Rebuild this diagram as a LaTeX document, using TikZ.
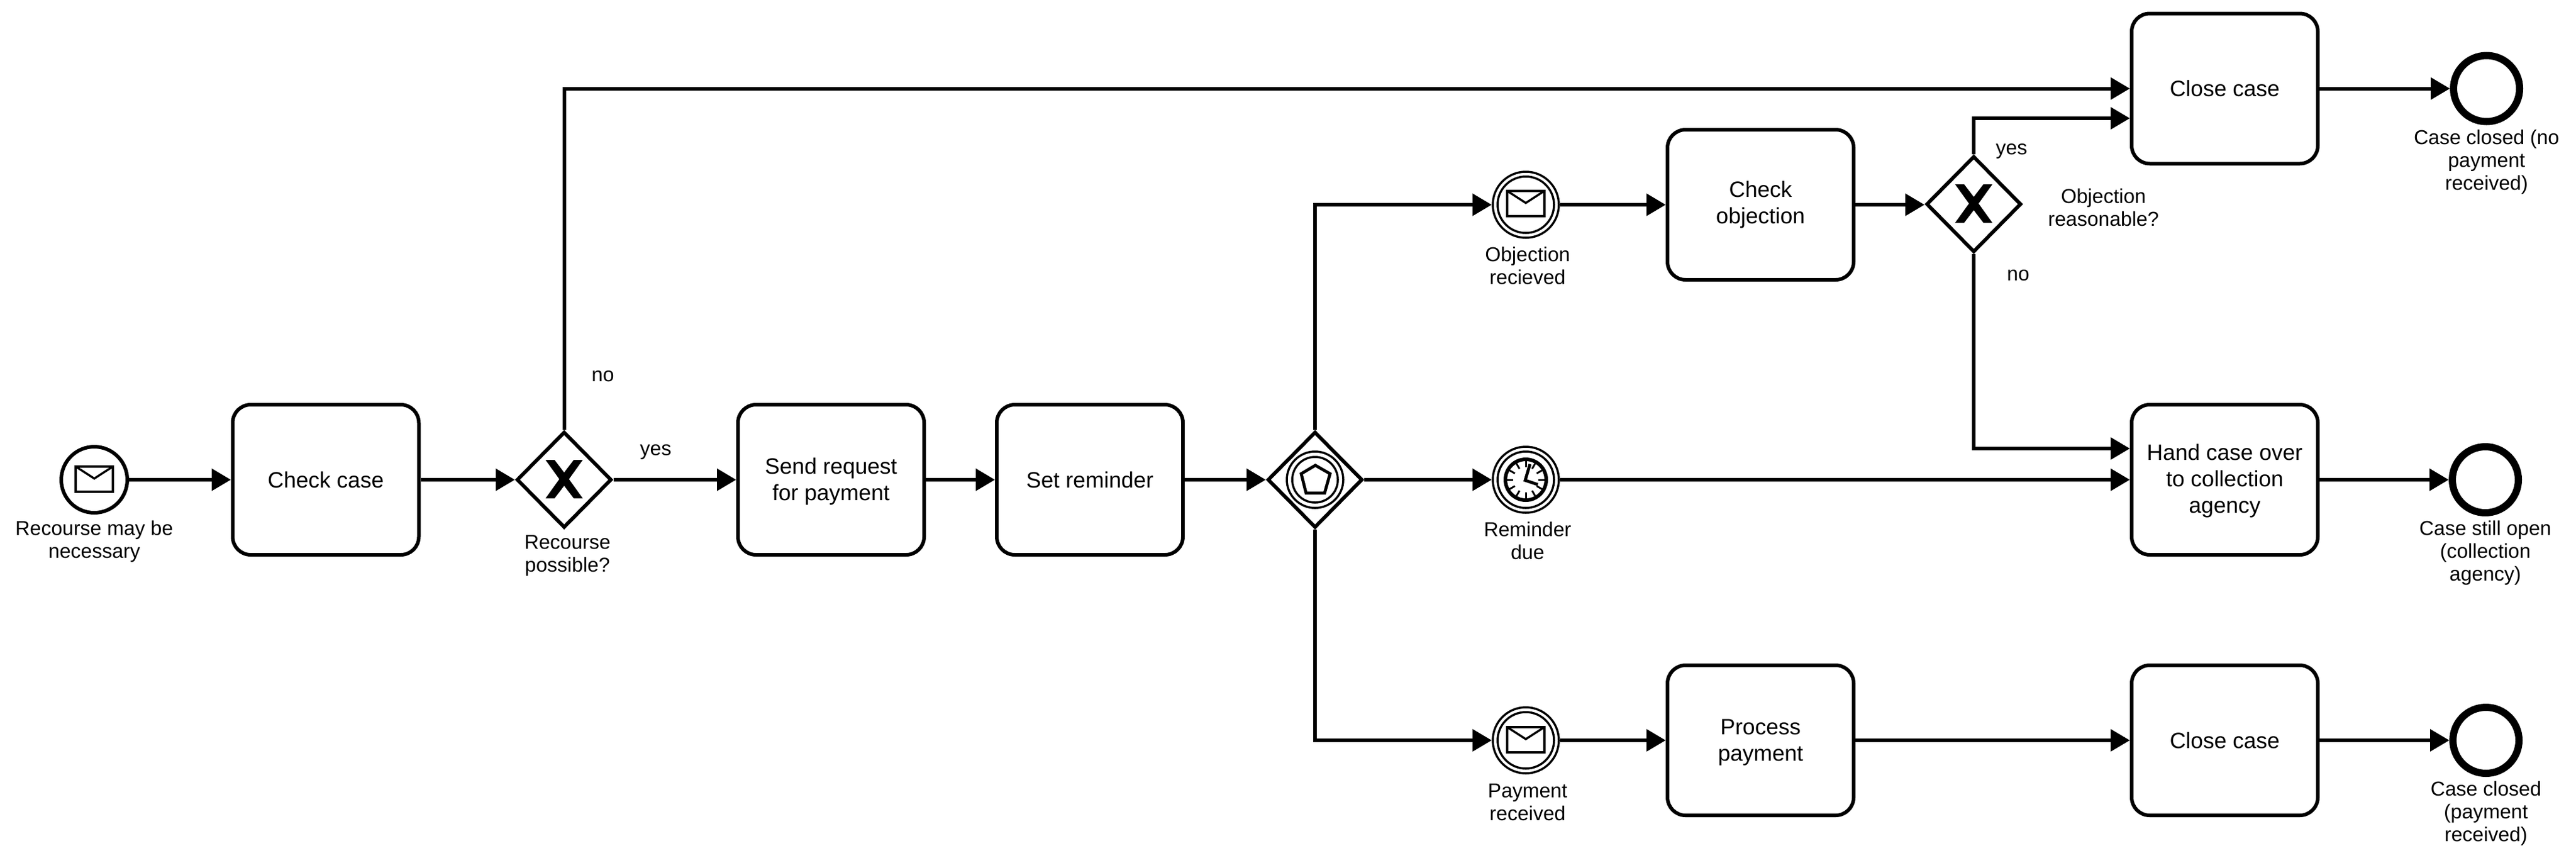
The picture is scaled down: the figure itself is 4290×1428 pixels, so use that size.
\documentclass[tikz,border=0pt]{standalone}
\usepackage{fontspec}
\setmainfont{Liberation Sans}
\usetikzlibrary{arrows.meta,shapes.geometric,calc}
\tikzset{
  taskbox/.style={draw,line width=6pt,rounded corners=30pt,minimum width=310pt,minimum height=250pt,inner sep=4pt,align=center,font=\fontsize{37}{44}\selectfont},
  gatebox/.style={draw,diamond,shape aspect=1,line width=6pt,minimum width=158pt,minimum height=160pt,inner sep=0pt},
  startev/.style={draw,circle,line width=6pt,minimum size=110pt,inner sep=0pt},
  endev/.style={draw,circle,line width=12pt,minimum size=110pt,inner sep=0pt},
  catchev/.style={draw,circle,line width=3.5pt,minimum size=110pt,inner sep=0pt},
  thin3/.style={line width=3.5pt},
  lbl/.style={align=center,inner sep=0pt,font=\fontsize{33.5}{38}\selectfont},
  flow/.style={line width=6pt,-{Triangle[length=32pt,width=36pt]}},
}
\newcommand{\liftline}{\rule{0pt}{32pt}}
\newcommand{\mailicon}[2]{%
  \draw[thin3] (#1-31,#2-21) rectangle (#1+31,#2+21);
  \draw[thin3] (#1-31,#2-21) -- (#1,#2-1) -- (#1+31,#2-21);
}
\newcommand{\xicon}[2]{%
  \fill (#1-31,#2-32) -- (#1-16,#2-32) -- (#1,#2-11) -- (#1+16,#2-32) -- (#1+31,#2-32) -- (#1+8,#2) -- (#1+31,#2+32) -- (#1+16,#2+32) -- (#1,#2+11) -- (#1-16,#2+32) -- (#1-31,#2+32) -- (#1-8,#2) -- cycle;
}
\begin{document}
\begin{tikzpicture}[x=1pt,y=-1pt]
\useasboundingbox (0,0) rectangle (4290,1428);
% tasks
\node[taskbox] (check) at (542.5,799) {Check case};
\node[taskbox] (send) at (1384,799) {\liftline Send request\\for payment};
\node[taskbox] (remind) at (1815,799) {Set reminder};
\node[taskbox] (obj) at (2932,341) {Check\\objection};
\node[taskbox] (pay) at (2932,1233) {\liftline Process\\payment};
\node[taskbox] (closeA) at (3705,147.5) {Close case};
\node[taskbox] (hand) at (3705,799) {\rule{0pt}{30pt}Hand case over\\to collection\\agency};
\node[taskbox] (closeB) at (3705,1233) {Close case};
% gateways
\node[gatebox] (gw1) at (939.5,799) {};
\node[gatebox] (gw2) at (2190,799) {};
\node[gatebox] (gw3) at (3287,340) {};
\xicon{939.5}{798}
\xicon{3287}{339}
% event-based gateway marker
\draw[thin3] (2190,799) circle (47);
\draw[thin3] (2190,799) circle (38);
\draw[line width=5pt,miter limit=10] (2190.5,775) -- (2215,789) -- (2206,821) -- (2175,821) -- (2167,789) -- cycle;
% events
\node[startev] (start) at (157,799) {};
\mailicon{157}{798}
\node[catchev] (evobj) at (2541,341) {};
\draw[thin3] (2541,341) circle (47);
\mailicon{2541}{339}
\node[catchev] (evdue) at (2541,799) {};
\draw[thin3] (2541,799) circle (47);
\draw[line width=6pt] (2541,799) circle (34);
\foreach \a in {0,30,...,330}{
  \draw[line width=3pt] ($(2541,799)+(\a:21)$) -- ($(2541,799)+(\a:32)$);
}
\draw[line width=5pt,line cap=butt] (2548,773) -- (2540,800) -- (2561,807);
\node[catchev] (evpay) at (2541,1233) {};
\draw[thin3] (2541,1233) circle (47);
\mailicon{2541}{1232}
\node[endev] (endA) at (4141,147.5) {};
\node[endev] (endB) at (4139,799) {};
\node[endev] (endC) at (4140,1233) {};
% labels
\node[lbl] (l1) at (157,902) {Recourse may be\\necessary};
\node[lbl] (l2) at (945,925) {Recourse\\possible?};
\node[lbl] (l3) at (1092,753) {yes};
\node[lbl] (l4) at (1004,627) {no};
\node[lbl] (l5) at (2544,443) {Objection\\recieved};
\node[lbl] (l6) at (2544,901) {Reminder\\due};
\node[lbl] (l7) at (2544,1336) {Payment\\received};
\node[lbl] (l8) at (3350,252) {yes};
\node[lbl] (l9) at (3361,459) {no};
\node[lbl] (l10) at (3503,346) {Objection\\reasonable?};
\node[lbl] (l11) at (4141,270) {Case closed (no\\payment\\received)};
\node[lbl] (l12) at (4139,921) {Case still open\\(collection\\agency)};
\node[lbl] (l13) at (4140,1355) {Case closed\\(payment\\received)};
% flows
\draw[flow] (start) -- (check);
\draw[flow] (check) -- (gw1);
\draw[flow] (gw1) -- (send);
\draw[flow] (send) -- (remind);
\draw[flow] (remind) -- (gw2);
\draw[flow] (gw1.north) |- (closeA.west);
\draw[flow] (gw2.north) |- (evobj.west);
\draw[flow] (gw2) -- (evdue);
\draw[flow] (gw2.south) |- (evpay.west);
\draw[flow] (evobj) -- (obj);
\draw[flow] (evdue) -- (evdue -| hand.west);
\draw[flow] (evpay) -- (pay);
\draw[flow] (obj) -- (obj -| gw3.west);
\draw[flow] (pay) -- (closeB);
\draw[flow] (gw3.north) |- ([yshift=-49.5pt]closeA.west);
\draw[flow] (gw3.south) |- ([yshift=52pt]hand.west);
\draw[flow] (closeA) -- (endA);
\draw[flow] (hand) -- (endB);
\draw[flow] (closeB) -- (endC);
\end{tikzpicture}
\end{document}
